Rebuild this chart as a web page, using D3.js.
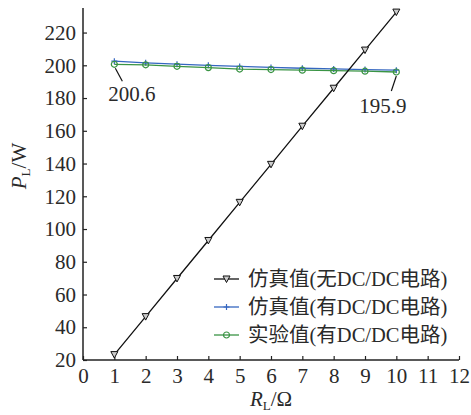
<!DOCTYPE html>
<html>
<head>
<meta charset="utf-8">
<script src="https://cdn.jsdelivr.net/npm/d3@7"></script>
<style>
  body { margin: 0; background: #fff; }
  svg text { font-family: "Liberation Serif", "Times New Roman", "DejaVu Serif", "Noto Sans CJK SC", serif; fill: #2a2a2a; }
</style>
</head>
<body>
<div id="chart"></div>
<script>
const resistance = [1, 2, 3, 4, 5, 6, 7, 8, 9, 10];
const simNoDC = [23.3, 46.5, 69.8, 93.0, 116.3, 139.5, 162.8, 186.0, 209.3, 232.5];
const simDC = [202.5, 201.5, 200.7, 200.0, 199.3, 198.7, 198.2, 197.8, 197.4, 197.0];
const expDC = [200.6, 200.3, 199.4, 198.6, 197.7, 197.4, 197.0, 196.7, 196.4, 195.9];
const xTicks = [0, 1, 2, 3, 4, 5, 6, 7, 8, 9, 10, 11, 12];
const yTicks = [20, 40, 60, 80, 100, 120, 140, 160, 180, 200, 220];
const seriesNames = ["仿真值(无DC/DC电路)", "仿真值(有DC/DC电路)", "实验值(有DC/DC电路)"];

const width = 471, height = 415;
const margin = {left: 83, right: 12, top: 8, bottom: 55};
const serif = '"Liberation Serif", "Times New Roman", "DejaVu Serif", "Noto Sans CJK SC", serif';

const svg = d3.select("#chart").append("svg")
    .attr("width", width)
    .attr("height", height);

const x = d3.scaleLinear().domain([0, 12]).range([margin.left, width - margin.right]);
const y = d3.scaleLinear().domain([20, 235]).range([height - margin.bottom, margin.top]);

// axes
const xAxis = svg.append("g")
    .attr("transform", `translate(0,${y(20)})`)
    .call(d3.axisBottom(x).tickValues(xTicks).tickSize(-4).tickSizeOuter(0).tickPadding(8));
const yAxis = svg.append("g")
    .attr("transform", `translate(${x(0)},0)`)
    .call(d3.axisLeft(y).tickValues(yTicks).tickSize(-4).tickSizeOuter(0).tickPadding(7));

[xAxis, yAxis].forEach(a => {
    a.attr("font-family", null).attr("font-size", null);
    a.select(".domain").attr("stroke", "#222").attr("stroke-width", 1.5);
    a.selectAll(".tick line").attr("stroke", "#222").attr("stroke-width", 1.2);
    a.selectAll(".tick text")
        .style("font-family", serif)
        .style("font-size", "21px")
        .attr("fill", "#2a2a2a");
});
xAxis.select(".domain").attr("d", `M${x(0)},0H${x(12)}`);
yAxis.select(".domain").attr("d", `M0,${y(20)}V${y(235)}`);

// axis titles
const xt = svg.append("text")
    .attr("x", x(6)).attr("y", 406)
    .attr("text-anchor", "middle")
    .style("font-size", "21px");
xt.append("tspan").text("R").style("font-style", "italic");
xt.append("tspan").text("L").attr("dy", 4).style("font-size", "13px");
xt.append("tspan").text("/Ω").attr("dy", -4);

const yt = svg.append("text")
    .attr("transform", "translate(26,166) rotate(-90)")
    .attr("text-anchor", "middle")
    .style("font-size", "21px");
yt.append("tspan").text("P").style("font-style", "italic");
yt.append("tspan").text("L").attr("dy", 4).style("font-size", "13px");
yt.append("tspan").text("/W").attr("dy", -4);

const line = d3.line().x(d => x(d[0])).y(d => y(d[1]));

const series = [
    {name: seriesNames[0], values: simNoDC, color: "#111", marker: "tri"},
    {name: seriesNames[1], values: simDC, color: "#3566c0", marker: "plus"},
    {name: seriesNames[2], values: expDC, color: "#3a9444", marker: "circle"}
];

function drawMarker(g, type, color) {
    if (type === "tri") {
        g.append("path").attr("d", "M-3.5,-3L3.5,-3L0,3.5Z")
            .attr("fill", "#ccc").attr("stroke", color).attr("stroke-width", 1);
    } else if (type === "plus") {
        g.append("path").attr("d", "M-3,0H3M0,-3V3")
            .attr("stroke", color).attr("stroke-width", 1.2);
    } else {
        g.append("circle").attr("r", 3)
            .attr("fill", "none").attr("stroke", color).attr("stroke-width", 1.2);
    }
}

// draw order: blue, green, black
[series[1], series[2], series[0]].forEach(s => {
    const pts = resistance.map((r, i) => [r, s.values[i]]);
    svg.append("path")
        .datum(pts)
        .attr("d", line)
        .attr("fill", "none")
        .attr("stroke", s.color)
        .attr("stroke-width", 1.3);
    svg.selectAll(null)
        .data(pts)
        .enter()
        .append("g")
        .attr("transform", d => `translate(${x(d[0])},${y(d[1])})`)
        .each(function() { drawMarker(d3.select(this), s.marker, s.color); });
});

// annotations
const first = expDC[0], last = expDC[expDC.length - 1];
svg.append("line")
    .attr("x1", x(1) + 1).attr("y1", y(first) + 4)
    .attr("x2", x(1) + 8).attr("y2", y(first) + 17)
    .attr("stroke", "#111").attr("stroke-width", 1.2);
svg.append("text")
    .attr("x", x(1) - 6).attr("y", y(first) + 37)
    .style("font-size", "21px")
    .text(first.toFixed(1));

svg.append("line")
    .attr("x1", x(10)).attr("y1", y(last) + 4)
    .attr("x2", x(10) - 5).attr("y2", y(last) + 19)
    .attr("stroke", "#111").attr("stroke-width", 1.2);
svg.append("text")
    .attr("x", x(10) - 37).attr("y", y(last) + 41)
    .style("font-size", "21px")
    .text(last.toFixed(1));

// legend
const legend = svg.append("g").attr("transform", "translate(214,279)");
series.forEach((s, i) => {
    const row = legend.append("g").attr("transform", `translate(0,${i * 28})`);
    row.append("line").attr("x1", 0).attr("x2", 25).attr("y1", 0).attr("y2", 0)
        .attr("stroke", s.color).attr("stroke-width", 1.3);
    drawMarker(row.append("g").attr("transform", "translate(12.5,0)"), s.marker, s.color);
    row.append("text")
        .attr("x", 34).attr("y", 7)
        .style("font-size", "20.5px")
        .text(s.name);
});
</script>
</body>
</html>
